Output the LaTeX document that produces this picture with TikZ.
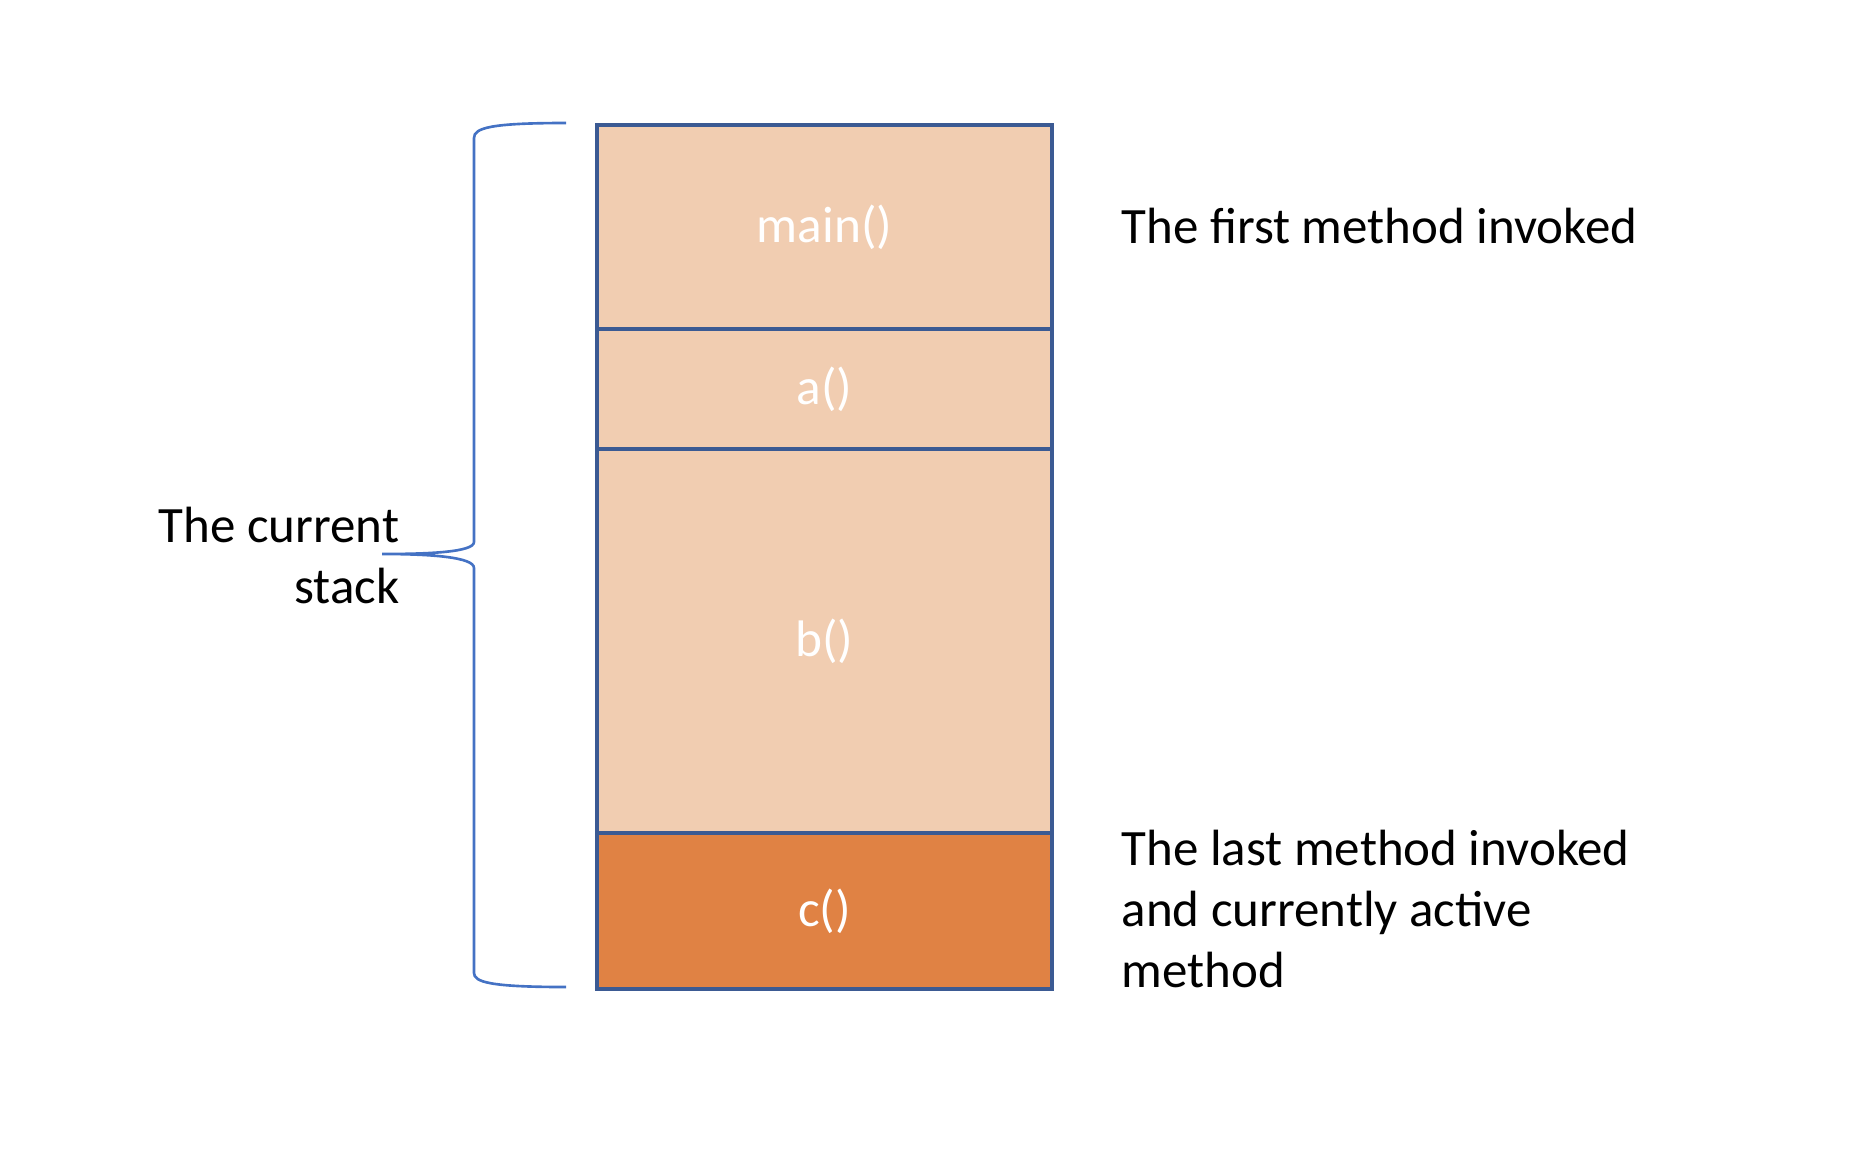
\documentclass[tikz,border=0pt]{standalone}
\usepackage{fontspec}
\setmainfont{Carlito}
\usepackage{xcolor}
\usetikzlibrary{positioning}

\definecolor{framefill}{HTML}{F1CDB1}
\definecolor{activefill}{HTML}{E08244}
\definecolor{frameline}{HTML}{3B5A93}
\definecolor{braceblue}{HTML}{4472C4}

\begin{document}
\begin{tikzpicture}[
  frame/.style   = {draw=frameline, line width=1pt, fill=framefill,
                    minimum width=4.55cm, outer sep=0pt, inner sep=0pt,
                    text=white, font=\fontsize{14.6}{17.4}\selectfont},
  active/.style  = {frame, fill=activefill},
  lbl/.style     = {font=\fontsize{14.5}{17.4}\selectfont, inner sep=0pt},
  brace/.style   = {draw=braceblue, line width=0.75pt},
]
\useasboundingbox (0,0) rectangle (18.66,-11.60);

%% Stack frames, top to bottom
\node[frame, minimum height=2.04cm] (mainf) at (8.245,-2.27) {main()};
\node[frame, minimum height=1.20cm, below=0pt of mainf] (af) {a()};
\node[frame, minimum height=3.84cm, below=0pt of af] (bf) {b()};
\node[active, minimum height=1.56cm, below=0pt of bf] (cf) {c()};

%% Annotations on the right
\node[lbl, anchor=west] (first) at (11.21,-2.26) {The first method invoked};
\node[lbl, anchor=west, align=left] (last) at (11.21,-9.09)
      {The last method invoked\\and currently active\\method};

%% Curly brace round the whole stack
\coordinate (bt)  at (5.66,-1.23);
\coordinate (bb)  at (5.66,-9.87);
\coordinate (tip) at (3.82,-5.54);
\draw[brace] (bt) .. controls (4.90,-1.23) and (4.74,-1.28) .. (4.74,-1.38)
      -- (4.74,-5.42) .. controls (4.74,-5.52) and (4.30,-5.54) .. (tip)
      .. controls (4.30,-5.54) and (4.74,-5.57) .. (4.74,-5.68)
      -- (4.74,-9.73) .. controls (4.74,-9.82) and (4.90,-9.87) .. (bb);

\node[lbl, anchor=east, align=right] (current) at (4.00,-5.555)
      {The current\\stack};

\end{tikzpicture}
\end{document}
